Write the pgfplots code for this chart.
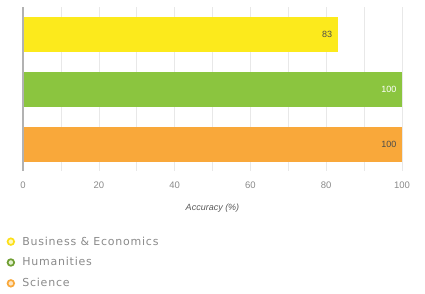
\documentclass[border=0pt]{standalone}
\usepackage{pgfplots}
\pgfplotsset{compat=1.18}
\usepackage{fontspec}
\setmainfont{Liberation Sans}
\newfontfamily\legfont[LetterSpace=7]{DejaVu Sans}
\definecolor{cyel}{HTML}{FCEA1C}
\definecolor{cgrn}{HTML}{8BC53F}
\definecolor{corg}{HTML}{F9A83A}
\definecolor{tgray}{HTML}{8A8A8A}
\begin{document}
\begin{tikzpicture}
\useasboundingbox (0,0) rectangle (425pt,294pt);
\begin{axis}[
  at={(23pt,123pt)}, anchor=south west,
  scale only axis, width=379pt, height=164pt,
  xbar, bar width=35pt, bar shift=0pt,
  xmin=0, xmax=100, ymin=-0.48, ymax=2.5,
  xtick={0,20,40,60,80,100},
  minor xtick={10,30,50,70,90},
  xmajorgrids, xminorgrids,
  major grid style={draw=gray!18, line width=0.6pt},
  minor grid style={draw=gray!18, line width=0.6pt},
  ytick=\empty,
  axis line style={draw=none},
  tick style={draw=none},
  xticklabel style={font=\fontsize{9.5}{10}\selectfont, text=tgray, yshift=-7pt},
  /pgf/number format/assume math mode=true,
  xlabel={\textit{Accuracy (\%)}},
  xlabel style={font=\fontsize{9}{10}\selectfont, text=black!65, yshift=-9pt},
  legend style={at={(0,0)}, anchor=north west, xshift=-16.5pt, yshift=-63.5pt,
    draw=none, fill=none, font=\legfont\fontsize{11}{12}\selectfont, text=tgray,
    row sep=7pt, inner sep=0pt},
  legend cell align=left,
  clip=false,
]
\addplot[draw=none, fill=cyel,
  nodes near coords={\textcolor{black!70}{\pgfmathprintnumber{\pgfplotspointmeta}}},
  every node near coord/.append style={font=\fontsize{9}{9}\selectfont, anchor=east, xshift=-2pt},
  legend image code/.code={\draw[draw=cyel!90!orange, line width=1.7pt, fill=cyel!30] (0,0) circle (3.3pt);\path (9.5pt,0);}]
  coordinates {(83,2)};
\addlegendentry{Business \& Economics}
\addplot[draw=none, fill=cgrn,
  nodes near coords={\textcolor{white}{\pgfmathprintnumber{\pgfplotspointmeta}}},
  every node near coord/.append style={font=\fontsize{9}{9}\selectfont, anchor=east, xshift=-2pt},
  legend image code/.code={\draw[draw=cgrn!80!black, line width=1.7pt, fill=cgrn!25] (0,0) circle (3.3pt);\path (9.5pt,0);}]
  coordinates {(100,1)};
\addlegendentry{Humanities}
\addplot[draw=none, fill=corg,
  nodes near coords={\textcolor{black!70}{\pgfmathprintnumber{\pgfplotspointmeta}}},
  every node near coord/.append style={font=\fontsize{9}{9}\selectfont, anchor=east, xshift=-2pt},
  legend image code/.code={\draw[draw=corg, line width=1.7pt, fill=corg!30] (0,0) circle (3.3pt);\path (9.5pt,0);}]
  coordinates {(100,0)};
\addlegendentry{Science}
\draw[gray!60, line width=1.2pt] (axis cs:0,-0.48) -- (axis cs:0,2.5);
\end{axis}
\end{tikzpicture}
\end{document}
